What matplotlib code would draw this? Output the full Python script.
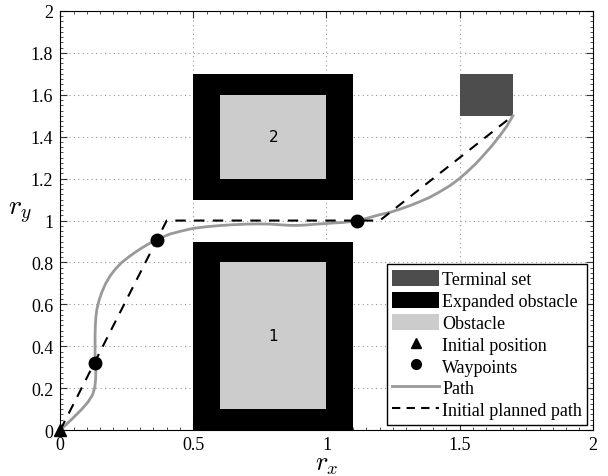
import numpy as np
import matplotlib.pyplot as plt
import matplotlib.patches as mpatches
from matplotlib.lines import Line2D
from matplotlib.ticker import AutoMinorLocator

plt.rcParams['font.family'] = ['Liberation Serif', 'DejaVu Serif']
plt.rcParams['mathtext.fontset'] = 'cm'

# obstacles: (x0, y0, width, height)
expanded = [(0.5, 0.0, 0.6, 0.9), (0.5, 1.1, 0.6, 0.6)]
obstacles = [(0.6, 0.1, 0.4, 0.7), (0.6, 1.2, 0.4, 0.4)]
obstacle_ids = ["1", "2"]
terminal = (1.5, 1.5, 0.2, 0.2)

plan_x = [0.0, 0.4, 1.2, 1.7]
plan_y = [0.0, 1.0, 1.0, 1.5]

way_x = [0.131, 0.365, 1.116]
way_y = [0.32, 0.908, 1.0]

path_x = [0.0, 0.044, 0.081, 0.105, 0.122, 0.13, 0.133, 0.134, 0.133, 0.131, 0.131, 0.131,
          0.132, 0.134, 0.138, 0.146, 0.156, 0.17, 0.188, 0.208, 0.231, 0.256, 0.281, 0.306,
          0.331, 0.35, 0.365, 0.39, 0.413, 0.455, 0.5, 0.545, 0.588, 0.645, 0.7, 0.745, 0.788,
          0.825, 0.863, 0.895, 0.925, 0.962, 1.0, 1.032, 1.063, 1.09, 1.116, 1.14, 1.163, 1.2,
          1.238, 1.275, 1.313, 1.35, 1.388, 1.425, 1.463, 1.495, 1.526, 1.558, 1.588,
          1.62, 1.651, 1.677, 1.7]
path_y = [0.0, 0.053, 0.1, 0.135, 0.17, 0.205, 0.243, 0.283, 0.32, 0.36, 0.402, 0.45,
          0.5, 0.54, 0.578, 0.62, 0.657, 0.698, 0.737, 0.77, 0.8, 0.825, 0.848, 0.869,
          0.888, 0.9, 0.908, 0.924, 0.936, 0.95, 0.963, 0.97, 0.975, 0.98, 0.983, 0.984, 0.983,
          0.98, 0.977, 0.977, 0.979, 0.983, 0.986, 0.989, 0.991, 0.995, 0.999, 1.007, 1.015, 1.028,
          1.039, 1.054, 1.071, 1.09, 1.111, 1.137, 1.166, 1.196, 1.23, 1.268, 1.309,
          1.355, 1.405, 1.45, 1.5]

fig = plt.figure(figsize=(6.08, 4.77), dpi=100)
ax = fig.add_axes([0.099, 0.096, 0.876, 0.879])

for (x0, y0, w, h) in expanded:
    ax.add_patch(mpatches.Rectangle((x0, y0), w, h, facecolor='black', edgecolor='none', zorder=2))
for (x0, y0, w, h), lab in zip(obstacles, obstacle_ids):
    ax.add_patch(mpatches.Rectangle((x0, y0), w, h, facecolor='#cccccc', edgecolor='none', zorder=3))
    ax.text(x0 + w / 2, y0 + h / 2, lab, ha='center', va='center', fontsize=11,
            family='DejaVu Sans', zorder=4)
ax.add_patch(mpatches.Rectangle(terminal[:2], terminal[2], terminal[3], facecolor='#4d4d4d',
                                edgecolor='none', zorder=2))

ax.plot(path_x, path_y, color='#999999', lw=2, zorder=5, solid_joinstyle='round')
ax.plot(plan_x, plan_y, 'k--', lw=1.5, dashes=(5, 4), zorder=6)
ax.plot(way_x, way_y, 'ko', ms=9, zorder=7)
ax.plot([0], [0], 'k^', ms=9, zorder=7, clip_on=False)

ax.set_xlim(0, 2)
ax.set_ylim(0, 2)
ax.set_xticks([0, 0.5, 1, 1.5, 2])
ax.set_xticklabels(['0', '0.5', '1', '1.5', '2'])
ax.set_yticks(np.arange(0, 2.01, 0.2))
ax.set_yticklabels(['0', '0.2', '0.4', '0.6', '0.8', '1', '1.2', '1.4', '1.6', '1.8', '2'])
ax.xaxis.set_minor_locator(AutoMinorLocator(10))
ax.yaxis.set_minor_locator(AutoMinorLocator(8))
ax.tick_params(which='both', direction='in', top=True, right=True, labelsize=13, color='#333333')
ax.tick_params(which='major', length=5, pad=5)
ax.tick_params(axis='x', which='major', pad=4)
ax.tick_params(which='minor', length=2.5, width=0.6)
ax.grid(True, which='major', linestyle=(0, (1, 3)), color='#999999', lw=0.8)
ax.set_axisbelow(True)

ax.set_xlabel(r'$r_x$', fontsize=19, va='baseline')
ax.set_ylabel(r'$r_y$', fontsize=20, rotation=0)
ax.yaxis.set_label_coords(-0.075, 0.49)
ax.xaxis.set_label_coords(0.5, -0.093)

handles = [
    mpatches.Patch(facecolor='#4d4d4d', label='Terminal set'),
    mpatches.Patch(facecolor='black', label='Expanded obstacle'),
    mpatches.Patch(facecolor='#cccccc', label='Obstacle'),
    Line2D([], [], marker='^', color='k', ls='none', ms=7, label='Initial position'),
    Line2D([], [], marker='o', color='k', ls='none', ms=7, label='Waypoints'),
    Line2D([], [], color='#999999', lw=2, label='Path'),
    Line2D([], [], color='k', ls='--', lw=1.5, dashes=(4, 3), label='Initial planned path'),
]
leg = ax.legend(handles=handles, loc='lower right', fontsize=13, frameon=True, fancybox=False,
                edgecolor='black', framealpha=1, borderaxespad=0.3, handlelength=2.6,
                handleheight=1.0, handletextpad=0.15, labelspacing=0.2, borderpad=0.3)
leg.get_frame().set_linewidth(1)
leg.set_zorder(10)

fig.savefig('out.png', dpi=100)
